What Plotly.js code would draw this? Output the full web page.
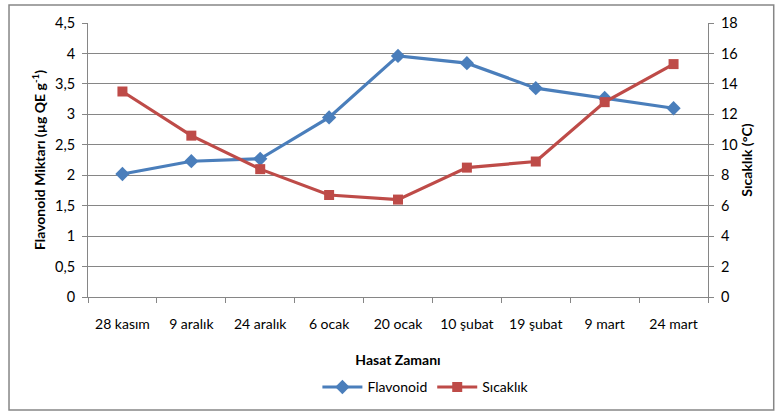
<!DOCTYPE html>
<html>
<head>
<meta charset="utf-8">
<script src="https://cdn.plot.ly/plotly-3.0.1.min.js"></script>
<style>html,body{margin:0;padding:0;background:#fff;}#chart{width:775px;height:412px;}</style>
</head>
<body>
<div id="chart"></div>
<script>
const categories = ["28 kasım", "9 aralık", "24 aralık", "6 ocak", "20 ocak", "10 şubat", "19 şubat", "9 mart", "24 mart"];
const flavonoid = [2.02, 2.23, 2.27, 2.95, 3.96, 3.84, 3.43, 3.27, 3.10];
const sicaklik = [13.5, 10.6, 8.4, 6.7, 6.4, 8.5, 8.9, 12.8, 15.3];
const leftTicks = [0, 0.5, 1, 1.5, 2, 2.5, 3, 3.5, 4, 4.5];
const leftTickText = ["0", "0,5", "1", "1,5", "2", "2,5", "3", "3,5", "4", "4,5"];
const rightTicks = [0, 2, 4, 6, 8, 10, 12, 14, 16, 18];

const FONT = "Lato, Liberation Sans, sans-serif";

const traces = [
  {
    x: categories, y: flavonoid, name: "Flavonoid", type: "scatter", mode: "lines+markers",
    line: {color: "#4a7ebb", width: 3.2},
    marker: {symbol: "diamond", size: 11, color: "#4a7ebb"},
    yaxis: "y"
  },
  {
    x: categories, y: sicaklik, name: "Sıcaklık", type: "scatter", mode: "lines+markers",
    line: {color: "#be4b48", width: 3.2},
    marker: {symbol: "square", size: 10, color: "#be4b48"},
    yaxis: "y2"
  }
];

const layout = {
  width: 775, height: 412,
  margin: {l: 88, r: 67, t: 23, b: 115, autoexpand: false},
  paper_bgcolor: "#ffffff", plot_bgcolor: "#ffffff",
  font: {family: FONT, size: 14, color: "#000"},
  showlegend: true,
  legend: {orientation: "h", x: 0.545, xanchor: "center", y: -0.33, yanchor: "middle",
           font: {size: 14, color: "#000"}, itemwidth: 40, tracegroupgap: 0},
  xaxis: {
    type: "category", tickson: "boundaries", ticks: "outside", ticklen: 5, tickcolor: "#868686",
    showline: true, linecolor: "#868686", linewidth: 1, showgrid: false, zeroline: false,
    automargin: false,
    mirror: false, tickfont: {size: 14, color: "#000"}, ticklabelstandoff: 14,
    title: {text: "<b>Hasat Zamanı</b>", font: {size: 14, color: "#000"}, standoff: 24},
    range: [-0.5, 8.5]
  },
  yaxis: {
    range: [0, 4.5], tickvals: leftTicks, ticktext: leftTickText,
    ticks: "outside", ticklen: 5, tickcolor: "#868686",
    showline: true, linecolor: "#868686", linewidth: 1, automargin: false,
    showgrid: true, gridcolor: "#868686", gridwidth: 1, zeroline: false,
    tickfont: {size: 14.5, color: "#000"}, ticklabelstandoff: 4,
    title: {text: "<b>Flavonoid Miktarı (µg QE g<sup>-1</sup>)</b>", font: {size: 14, color: "#000"}, standoff: 6}
  },
  yaxis2: {
    range: [0, 18], tickvals: rightTicks, overlaying: "y", side: "right",
    ticks: "outside", ticklen: 5, tickcolor: "#868686",
    showline: true, linecolor: "#868686", linewidth: 1, automargin: false,
    showgrid: false, zeroline: false,
    tickfont: {size: 14.5, color: "#000"}, ticklabelstandoff: 4,
    title: {text: "<b>Sıcaklık (°C)</b>", font: {size: 14, color: "#000"}, standoff: 2}
  },
  shapes: [
    {type: "rect", xref: "paper", yref: "paper", x0: -0.1274, x1: 1.106, y0: -0.412, y1: 1.0657,
     line: {color: "#868686", width: 1.5}, fillcolor: "rgba(0,0,0,0)", layer: "below"}
  ]
};

Plotly.newPlot("chart", traces, layout, {displayModeBar: false, staticPlot: true});
</script>
</body>
</html>
